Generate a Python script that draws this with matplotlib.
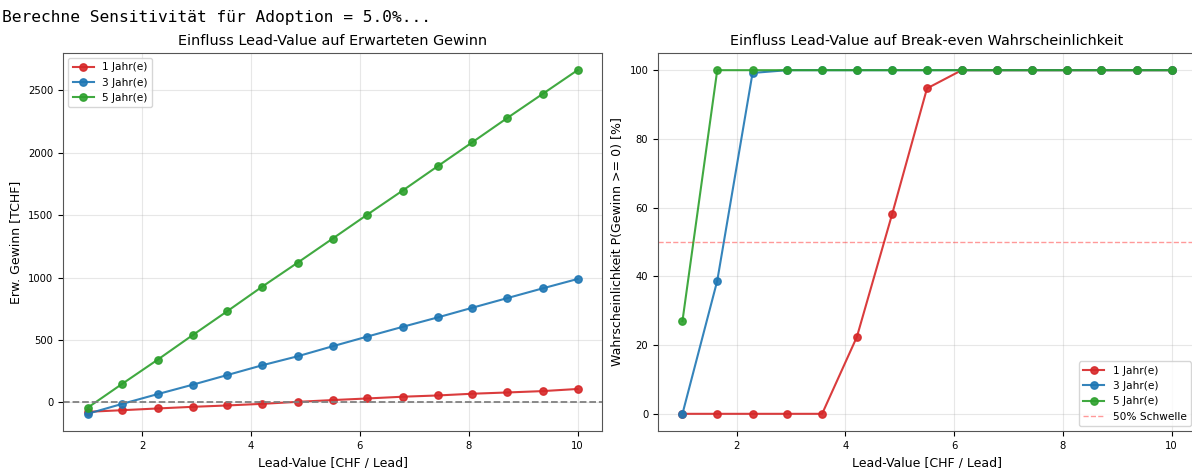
import matplotlib
matplotlib.use("Agg")
import matplotlib.pyplot as plt

# Lead-Value Stufen [CHF / Lead]
lead_values = [1.0, 1.64, 2.29, 2.93, 3.57, 4.21, 4.86, 5.5,
               6.14, 6.79, 7.43, 8.07, 8.71, 9.36, 10.0]

# Erwarteter Gewinn [TCHF]
gewinn_1 = [-75, -62, -48, -35, -24, -11, 5, 19, 32, 46, 56, 70, 80, 91, 108]
gewinn_3 = [-91, -11, 67, 142, 220, 298, 370, 450, 528, 606, 681, 759, 836, 914, 989]
gewinn_5 = [-43, 150, 343, 539, 732, 928, 1120, 1312, 1505, 1698, 1892, 2085, 2279, 2472, 2662]

# Break-even Wahrscheinlichkeit [%]
prob_1 = [0, 0, 0, 0, 0, 22.4, 58.2, 94.7, 100, 100, 100, 100, 100, 100, 100]
prob_3 = [0, 38.7, 99.2, 100, 100, 100, 100, 100, 100, 100, 100, 100, 100, 100, 100]
prob_5 = [27.0, 100, 100, 100, 100, 100, 100, 100, 100, 100, 100, 100, 100, 100, 100]

jahre = ["1 Jahr(e)", "3 Jahr(e)", "5 Jahr(e)"]
farben = ["tab:red", "tab:blue", "tab:green"]

fig = plt.figure(figsize=(11.92, 4.68), dpi=100)
# Konsolen-Ausgabe ueber der Grafik
fig.text(0.002, 0.963, "Berechne Sensitivität für Adoption = 5.0%...",
         family="DejaVu Sans Mono", fontsize=11.7, va="center")

ax1 = fig.add_axes([63 / 1192, 1 - 431 / 468, 539 / 1192, 378 / 468])
ax2 = fig.add_axes([658 / 1192, 1 - 431 / 468, 538 / 1192, 378 / 468])

# linker Plot: erwarteter Gewinn
for werte, name, farbe in zip([gewinn_1, gewinn_3, gewinn_5], jahre, farben):
    ax1.plot(lead_values, werte, marker="o", markersize=5.3, linewidth=1.5,
             color=farbe, label=name, alpha=0.9)
ax1.axhline(0, color="gray", linestyle="--", linewidth=1.3)
ax1.set_title("Einfluss Lead-Value auf Erwarteten Gewinn", fontsize=10.4)
ax1.set_xlabel("Lead-Value [CHF / Lead]", fontsize=9)
ax1.set_ylabel("Erw. Gewinn [TCHF]", fontsize=9)
ax1.grid(True, alpha=0.3)
ax1.legend(loc="upper left", fontsize=7.6)

# rechter Plot: Wahrscheinlichkeit
for werte, name, farbe in zip([prob_1, prob_3, prob_5], jahre, farben):
    ax2.plot(lead_values, werte, marker="o", markersize=5.3, linewidth=1.5,
             color=farbe, label=name, alpha=0.9)
ax2.axhline(50, color="red", linestyle="--", alpha=0.4, linewidth=1,
            label="50% Schwelle")
ax2.set_title("Einfluss Lead-Value auf Break-even Wahrscheinlichkeit", fontsize=10.4)
ax2.set_xlabel("Lead-Value [CHF / Lead]", fontsize=9)
ax2.set_ylabel("Wahrscheinlichkeit P(Gewinn >= 0) [%]", fontsize=9)
ax2.grid(True, alpha=0.3)
ax2.legend(loc="lower right", fontsize=7.6)

for ax in (ax1, ax2):
    ax.tick_params(labelsize=7.2)
    for sp in ax.spines.values():
        sp.set_color("#555555")

fig.savefig("out.png", dpi=100)
